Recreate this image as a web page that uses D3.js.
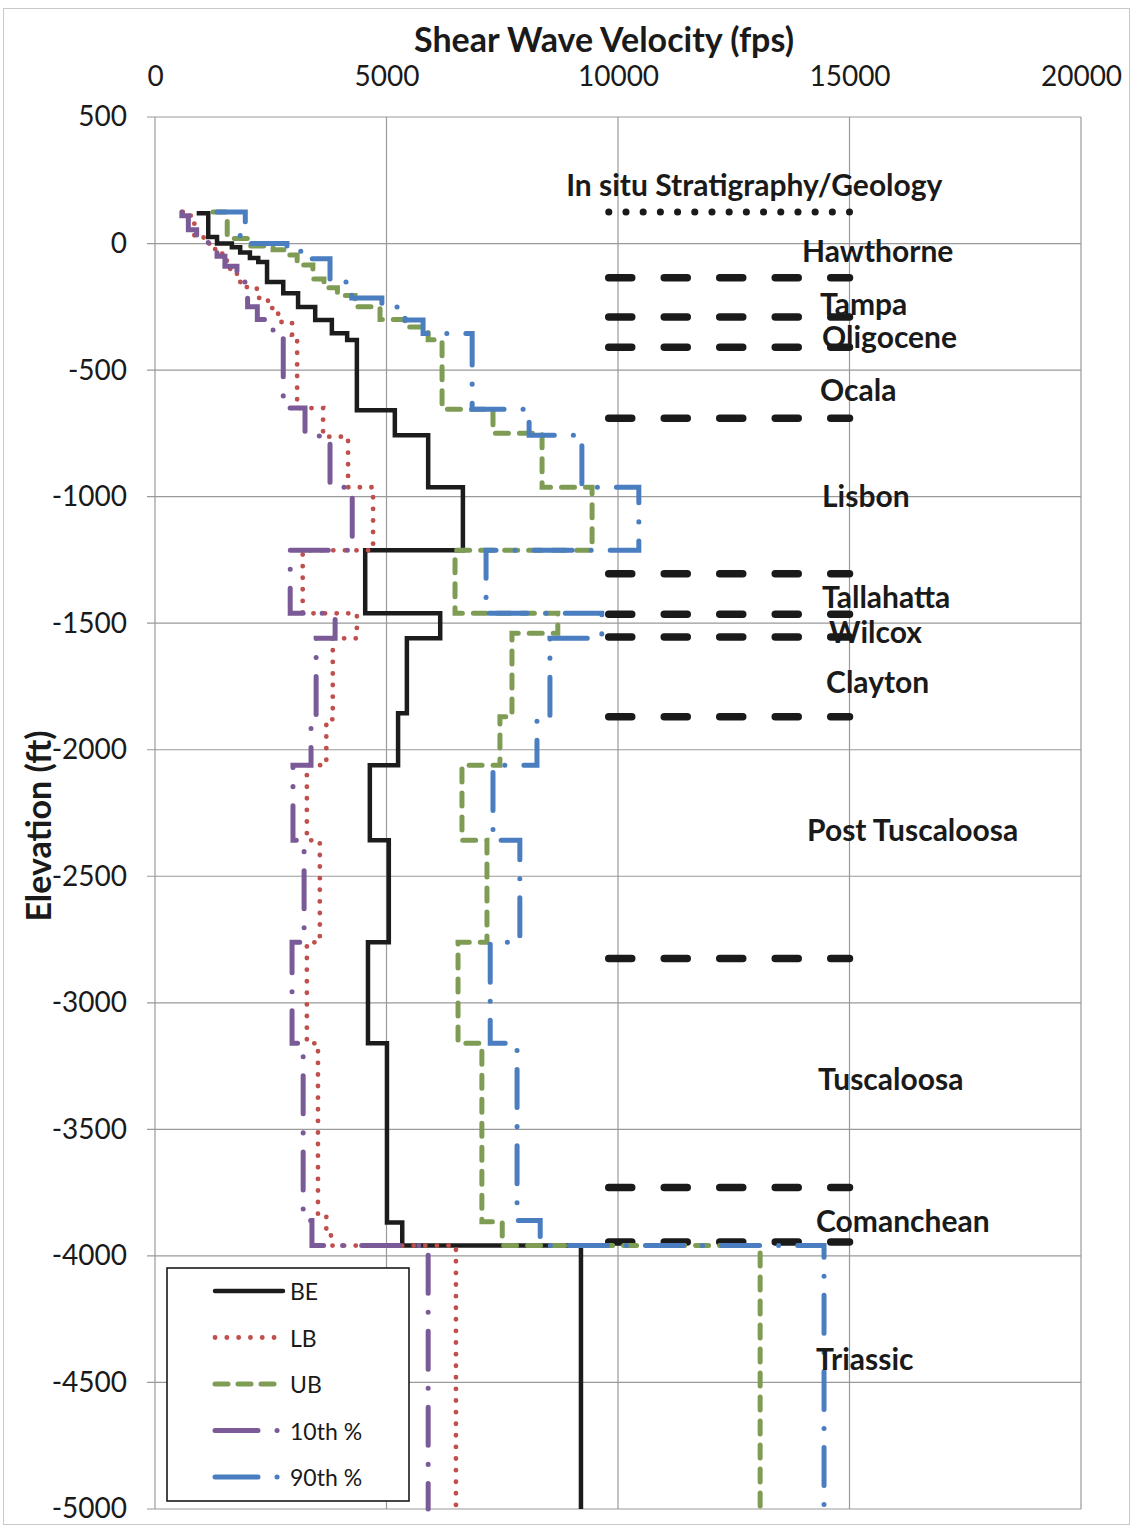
<!DOCTYPE html>
<html><head><meta charset="utf-8">
<script src="https://cdn.jsdelivr.net/npm/d3@7"></script>
<style>body{margin:0;background:#fff}svg{display:block}text{font-family:Lato,"Open Sans",sans-serif;fill:#1a1a1a}</style>
</head><body>
<svg id="c" width="1134" height="1530"></svg>
<script>
// ---- data ----
const xTicks = [0, 5000, 10000, 15000, 20000];
const yTicks = [500, 0, -500, -1000, -1500, -2000, -2500, -3000, -3500, -4000, -4500, -5000];

const beTop = 120;
const beVel = [900, 1150, 1340, 1660, 1840, 2050, 2230, 2420, 2770, 3090, 3460, 3820, 4150, 4360, 5180, 5900, 6650, 4540, 6160, 5440, 5250, 4640, 5050, 4600, 5010, 5340, 9200];
const beBottom = [120, 26, 0, -15, -35, -57, -73, -152, -196, -251, -302, -354, -381, -659, -757, -963, -1212, -1461, -1560, -1856, -2061, -2358, -2761, -3160, -3868, -3959, -5000];

const lbTop = 125;
const lbVel = [600, 850, 1050, 1300, 1550, 1770, 1940, 2200, 2440, 2660, 2960, 3070, 3630, 4170, 4710, 3190, 4360, 3840, 3700, 3280, 3560, 3280, 3520, 3700, 3800, 6500];
const lbBottom = [110, 30, 0, -40, -100, -152, -172, -215, -255, -310, -360, -650, -763, -963, -1212, -1461, -1560, -1880, -2061, -2358, -2761, -3160, -3840, -3900, -3959, -5000];

const ubTop = 125;
const ubVel = [1250, 1560, 2000, 2550, 2800, 3070, 3410, 3650, 3940, 4320, 4860, 5400, 5900, 6200, 7300, 8360, 9440, 6480, 8700, 7710, 7450, 6630, 7170, 6545, 7060, 7500, 13070];
const ubBottom = [125, 20, -10, -25, -45, -85, -140, -175, -205, -250, -300, -330, -380, -655, -750, -963, -1212, -1461, -1540, -1870, -2061, -2358, -2761, -3160, -3865, -3959, -5000];

const p10Top = 125;
const p10Vel = [580, 720, 900, 1150, 1340, 1510, 1770, 2000, 2210, 2550, 2770, 3240, 3780, 4260, 2920, 3890, 3480, 3370, 2980, 3220, 2960, 3200, 3390, 5900];
const p10Bottom = [110, 55, 20, -25, -50, -90, -152, -250, -300, -350, -650, -760, -963, -1212, -1461, -1560, -1880, -2061, -2358, -2761, -3160, -3860, -3959, -5000];

const p90Top = 125;
const p90Vel = [1340, 1950, 1840, 2850, 3350, 3780, 4250, 4900, 5400, 5790, 6850, 8080, 9220, 10450, 7150, 9650, 8530, 8250, 7300, 7880, 7240, 7820, 8320, 14450];
const p90Bottom = [125, 80, 0, -30, -60, -152, -215, -251, -302, -355, -655, -757, -963, -1212, -1461, -1560, -1870, -2061, -2358, -2761, -3160, -3860, -3959, -5000];

const seriesNames = ["BE", "LB", "UB", "10th %", "90th %"];

const strataTopElev = 125;
const strataElev = [-135, -290, -410, -690, -1305, -1465, -1555, -1870, -2825, -3730, -3945];
const strataVelRange = [9800, 15000];

const geoTitle = "In situ Stratigraphy/Geology";
const geoTitlePos = [8880, 235];
const geoNames = ["Hawthorne", "Tampa", "Oligocene", "Ocala", "Lisbon", "Tallahatta", "Wilcox", "Clayton", "Post Tuscaloosa", "Tuscaloosa", "Comanchean", "Triassic"];
const geoElev = [-26, -235, -366, -575, -994, -1393, -1532, -1730, -2315, -3299, -3860, -4402];
const geoVel = [13975, 14364, 14407, 14364, 14407, 14407, 14558, 14494, 14083, 14321, 14278, 14278];

// ---- chart ----
const svg = d3.select("#c");
const x = d3.scaleLinear().domain([0, 20000]).range([155, 1081]);
const y = d3.scaleLinear().domain([500, -5000]).range([117, 1509]);

svg.append("rect").attr("x", 3.5).attr("y", 8.5).attr("width", 1126).attr("height", 1516)
  .attr("fill", "none").attr("stroke", "#c8c8c8");

// grid
const g = svg.append("g");
g.selectAll(".vg").data(xTicks).join("line")
  .attr("x1", d => x(d)).attr("x2", d => x(d)).attr("y1", y(500)).attr("y2", y(-5000))
  .attr("stroke", "#9a9a9a").attr("stroke-width", 1.2);
g.selectAll(".hg").data(yTicks).join("line")
  .attr("x1", x(0) - 8).attr("x2", x(20000)).attr("y1", d => y(d)).attr("y2", d => y(d))
  .attr("stroke", "#9a9a9a").attr("stroke-width", 1.2);

// axes (labels via d3 axes)
const fmt = d => String(d);
const xAxis = svg.append("g").attr("transform", `translate(0,${y(500)})`)
  .call(d3.axisTop(x).tickValues(xTicks).tickSize(0).tickPadding(31).tickFormat(fmt));
xAxis.select(".domain").remove();
xAxis.selectAll("text").attr("font-size", 28).attr("font-family", "Lato").attr("fill", "#1a1a1a");

const yAxis = svg.append("g").attr("transform", `translate(${x(0)},0)`)
  .call(d3.axisLeft(y).tickValues(yTicks).tickSize(0).tickPadding(28).tickFormat(fmt));
yAxis.select(".domain").remove();
yAxis.selectAll("text").attr("font-size", 28).attr("font-family", "Lato").attr("fill", "#1a1a1a");

svg.append("text").attr("x", 604).attr("y", 38).attr("text-anchor", "middle").attr("dominant-baseline", "central")
  .attr("font-size", 34).attr("font-weight", "bold").text("Shear Wave Velocity (fps)");
svg.append("text").attr("transform", "translate(37,826) rotate(-90)").attr("text-anchor", "middle")
  .attr("dominant-baseline", "central").attr("font-size", 34).attr("font-weight", "bold").text("Elevation (ft)");

// stratigraphy
const lineXY = d3.line().x(d => x(d[0])).y(d => y(d[1]));
const dotLen = x(strataVelRange[1]) - x(strataVelRange[0]);
svg.append("path").attr("d", lineXY([[strataVelRange[0], strataTopElev], [strataVelRange[1], strataTopElev]]))
  .attr("stroke", "#1a1a1a").attr("stroke-width", 7).attr("stroke-linecap", "round")
  .attr("stroke-dasharray", `0.1 ${dotLen / 14 - 0.1}`).attr("fill", "none");
svg.selectAll(".strat").data(strataElev).join("path")
  .attr("d", e => lineXY([[strataVelRange[0], e], [strataVelRange[1], e]]))
  .attr("stroke", "#1a1a1a").attr("stroke-width", 7.5).attr("stroke-linecap", "round")
  .attr("stroke-dasharray", "23 32.5").attr("fill", "none");

// series
function stepPoints(top, vels, bottoms) {
  const pts = [[vels[0], top]];
  for (let i = 0; i < vels.length; i++) {
    pts.push([vels[i], bottoms[i]]);
    if (i + 1 < vels.length) pts.push([vels[i + 1], bottoms[i]]);
  }
  return pts;
}
const series = [
  { pts: stepPoints(beTop, beVel, beBottom), color: "#1c1c1c", w: 4.5, dash: null },
  { pts: stepPoints(lbTop, lbVel, lbBottom), color: "#c0504d", w: 4.8, dash: "0.1 11.5" },
  { pts: stepPoints(ubTop, ubVel, ubBottom), color: "#7f9c55", w: 5, dash: "13 11" },
  { pts: stepPoints(p10Top, p10Vel, p10Bottom), color: "#7a5b98", w: 5, dash: "38 19 0.1 19" },
  { pts: stepPoints(p90Top, p90Vel, p90Bottom), color: "#4a7ec0", w: 5, dash: "38 19 0.1 19" }
];
series.forEach(s => {
  svg.append("path").attr("d", lineXY(s.pts)).attr("fill", "none").attr("stroke", s.color)
    .attr("stroke-width", s.w).attr("stroke-linecap", s.dash ? "round" : "butt")
    .attr("stroke-linejoin", "miter").attr("stroke-dasharray", s.dash);
});

// geology labels
svg.append("text").attr("x", x(geoTitlePos[0])).attr("y", y(geoTitlePos[1])).attr("dominant-baseline", "central")
  .attr("font-size", 30).attr("font-weight", "bold").text(geoTitle);
svg.selectAll(".geo").data(geoNames).join("text")
  .attr("x", (d, i) => x(geoVel[i])).attr("y", (d, i) => y(geoElev[i])).attr("dominant-baseline", "central")
  .attr("font-size", 30).attr("font-weight", "bold").text(d => d);

// legend
const lg = svg.append("g");
lg.append("rect").attr("x", 167).attr("y", 1268).attr("width", 242).attr("height", 233)
  .attr("fill", "#fff").attr("stroke", "#1a1a1a").attr("stroke-width", 1.6);
seriesNames.forEach((n, i) => {
  const yy = 1291 + i * 46.5;
  const s = series[i];
  lg.append("line").attr("x1", 215).attr("x2", i >= 3 ? 281 : 283).attr("y1", yy).attr("y2", yy)
    .attr("stroke", s.color).attr("stroke-width", s.w).attr("stroke-linecap", "round")
    .attr("stroke-dasharray", i === 1 ? "0.1 11.7" : i === 2 ? "13 10" : i >= 3 ? "43 19 0.1 19" : null);
  lg.append("text").attr("x", 290).attr("y", yy).attr("dominant-baseline", "central")
    .attr("font-size", 23).text(n);
});
</script>
</body></html>
